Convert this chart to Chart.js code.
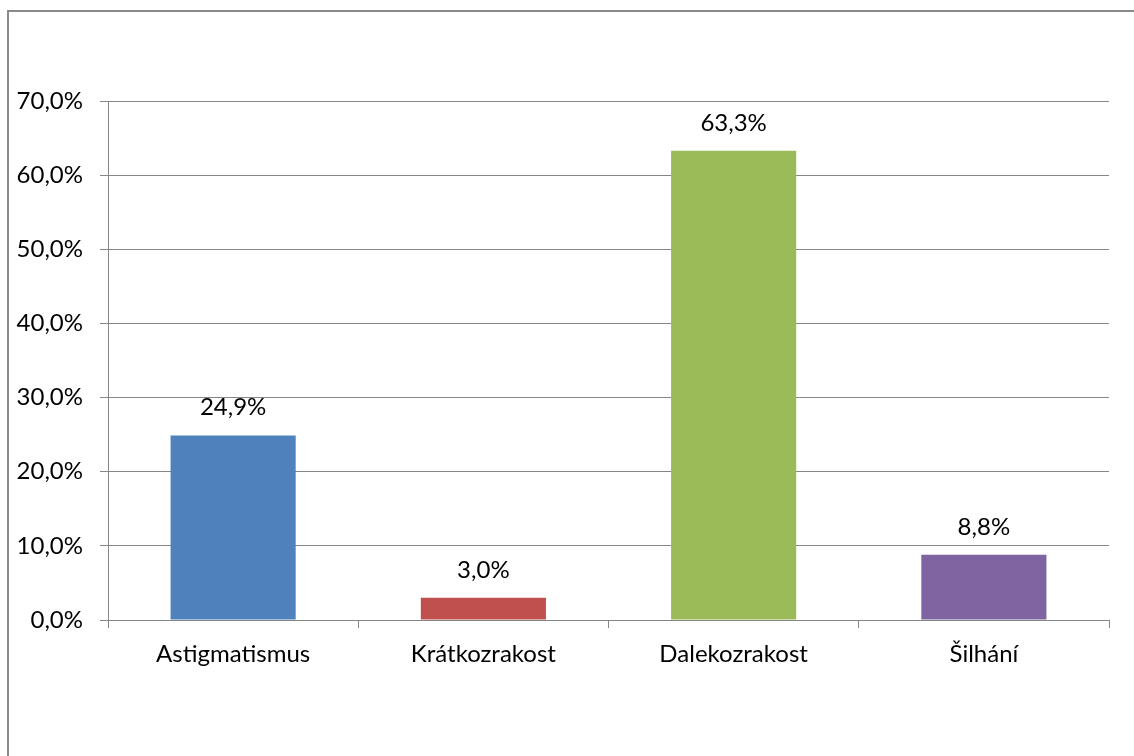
<!DOCTYPE html>
<html>
<head>
<meta charset="utf-8">
<script src="https://cdn.jsdelivr.net/npm/chart.js@4/dist/chart.umd.min.js"></script>
<style>
  html, body { margin: 0; padding: 0; background: #fff; }
  #wrap { position: relative; width: 1134px; height: 756px; }
</style>
</head>
<body>
<div id="wrap"><canvas id="c" width="1134" height="756"></canvas></div>
<script>
// Vady zraku – podíl v procentech
const categories = ['Astigmatismus', 'Krátkozrakost', 'Dalekozrakost', 'Šilhání'];
const shares = [24.9, 3.0, 63.3, 8.8];
const barColors = ['#4F81BD', '#C0504D', '#9BBB59', '#8064A2'];
const axisMin = 0;
const axisMax = 70;
const axisStep = 10;

const FONT = 'Lato, "Open Sans", sans-serif';
const FONT_SIZE = 24;
const GRID = '#868686';

function pct(v) {
  return v.toFixed(1).replace('.', ',') + '%';
}

// outer frame of the chart object
const framePlugin = {
  id: 'frame',
  beforeDraw(chart) {
    const ctx = chart.ctx;
    ctx.save();
    ctx.fillStyle = '#fff';
    ctx.fillRect(0, 0, chart.width, chart.height);
    ctx.strokeStyle = '#8a8a8a';
    ctx.lineWidth = 2;
    ctx.strokeRect(8, 11, chart.width + 20, chart.height + 20);
    ctx.restore();
  }
};

// value labels above each bar
const valueLabels = {
  id: 'valueLabels',
  afterDatasetsDraw(chart) {
    const ctx = chart.ctx;
    const meta = chart.getDatasetMeta(0);
    ctx.save();
    ctx.font = FONT_SIZE + 'px ' + FONT;
    ctx.fillStyle = '#000';
    ctx.textAlign = 'center';
    ctx.textBaseline = 'alphabetic';
    meta.data.forEach((bar, i) => {
      ctx.fillText(pct(chart.data.datasets[0].data[i]), bar.x, bar.y - 20);
    });
    ctx.restore();
  }
};

new Chart(document.getElementById('c'), {
  type: 'bar',
  data: {
    labels: categories,
    datasets: [{
      data: shares,
      backgroundColor: barColors,
      borderWidth: 0,
      categoryPercentage: 1.0,
      barPercentage: 0.5
    }]
  },
  options: {
    responsive: false,
    animation: false,
    devicePixelRatio: 1,
    layout: { padding: { left: 0, top: 101, right: 25, bottom: 0 } },
    plugins: {
      legend: { display: false },
      tooltip: { enabled: false }
    },
    scales: {
      x: {
        grid: {
          display: true,
          drawOnChartArea: false,
          drawTicks: true,
          tickLength: 8,
          color: GRID,
          offset: true
        },
        border: { display: true, color: GRID, width: 1 },
        ticks: {
          color: '#000',
          font: { family: FONT, size: FONT_SIZE },
          padding: 12,
          maxRotation: 0
        },
        afterFit(scale) { scale.height = 136; }
      },
      y: {
        min: axisMin,
        max: axisMax,
        grid: {
          color: GRID,
          lineWidth: 1,
          drawTicks: true,
          tickLength: 8
        },
        border: { display: true, color: GRID, width: 1 },
        ticks: {
          stepSize: axisStep,
          color: '#000',
          font: { family: FONT, size: FONT_SIZE },
          padding: 17,
          callback: (v) => pct(v)
        },
        afterFit(scale) { scale.width = 108; }
      }
    }
  },
  plugins: [framePlugin, valueLabels]
});
</script>
</body>
</html>
